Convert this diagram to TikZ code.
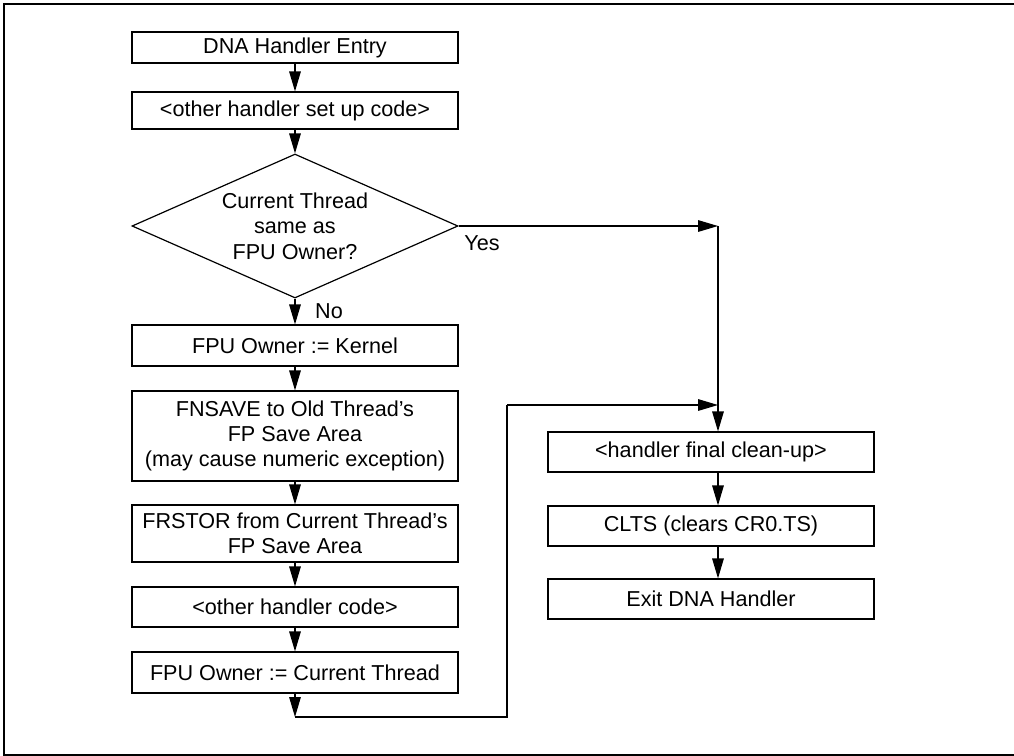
\documentclass[tikz,border=0pt]{standalone}
\usepackage{fontspec}
\setmainfont{Liberation Sans}
\usetikzlibrary{arrows.meta,positioning,shapes.geometric}

\begin{document}
\begin{tikzpicture}[x=0.5pt,y=-0.5pt,
    procbox/.style={draw,line width=0.6pt,minimum width=163pt,inner sep=0pt,align=center},
    decision/.style={draw,line width=0.6pt,diamond,aspect=2.26,minimum width=163pt,minimum height=72pt,inner sep=0pt,align=center},
    flow/.style={line width=0.6pt,-{Triangle[length=10pt,width=5.8pt]}},
    every node/.style={font=\fontsize{10.8}{12.7}\selectfont}]
  \useasboundingbox (0,0) rectangle (1014,756);
  \draw[line width=1.1pt] (1014,4) -- (4,4) -- (4,755) -- (1014,755);

  % left column
  \node[procbox,minimum height=15.5pt] (entry) at (295,47.5) {DNA Handler Entry};
  \node[procbox,minimum height=18.5pt] (setup) at (295,110.5) {<other handler set up code>};
  \node[decision] (decide) at (295,226) {Current Thread\\same as\\FPU Owner?};
  \node[procbox,minimum height=20.5pt] (kernel) at (295,345.5) {FPU Owner := Kernel};
  \node[procbox,minimum height=45pt] (fnsave) at (295,436) {FNSAVE to Old Thread’s\\FP Save Area\\(may cause numeric exception)};
  \node[procbox,minimum height=28.5pt] (frstor) at (295,533.5) {FRSTOR from Current Thread’s\\FP Save Area};
  \node[procbox,minimum height=20pt] (other) at (295,607) {<other handler code>};
  \node[procbox,minimum height=20.5pt] (setcur) at (295,672.5) {FPU Owner := Current Thread};

  % right column
  \node[procbox,minimum height=20pt] (cleanup) at (711,452) {<handler final clean-up>};
  \node[procbox,minimum height=20pt] (clts) at (711,526) {CLTS (clears CR0.TS)};
  \node[procbox,minimum height=20pt] (exitn) at (711,599) {Exit DNA Handler};

  \node (yeslbl) at (482,243) {Yes};
  \node (nolbl) at (329,311) {No};

  \coordinate (merge) at (718,226);
  \coordinate (join) at (718,405);
  \coordinate (loopa) at (295,717);
  \coordinate (loopb) at (507,717);
  \coordinate (loopc) at (507,405);

  \draw[flow] (entry) -- (setup);
  \draw[flow] (setup) -- (decide);
  \draw[flow] (decide) -- (kernel);
  \draw[flow] (kernel) -- (fnsave);
  \draw[flow] (fnsave) -- (frstor);
  \draw[flow] (frstor) -- (other);
  \draw[flow] (other) -- (setcur);
  \draw[flow] (setcur) -- (loopa);
  \draw[line width=0.6pt] (loopa) -- (loopb) -- (loopc);
  \draw[flow] (loopc) -- (join);
  \draw[flow] (decide.east) -- (merge);
  \draw[flow] (merge) -- (cleanup.north -| merge);
  \draw[flow] (cleanup.south -| merge) -- (clts.north -| merge);
  \draw[flow] (clts.south -| merge) -- (exitn.north -| merge);
\end{tikzpicture}
\end{document}
